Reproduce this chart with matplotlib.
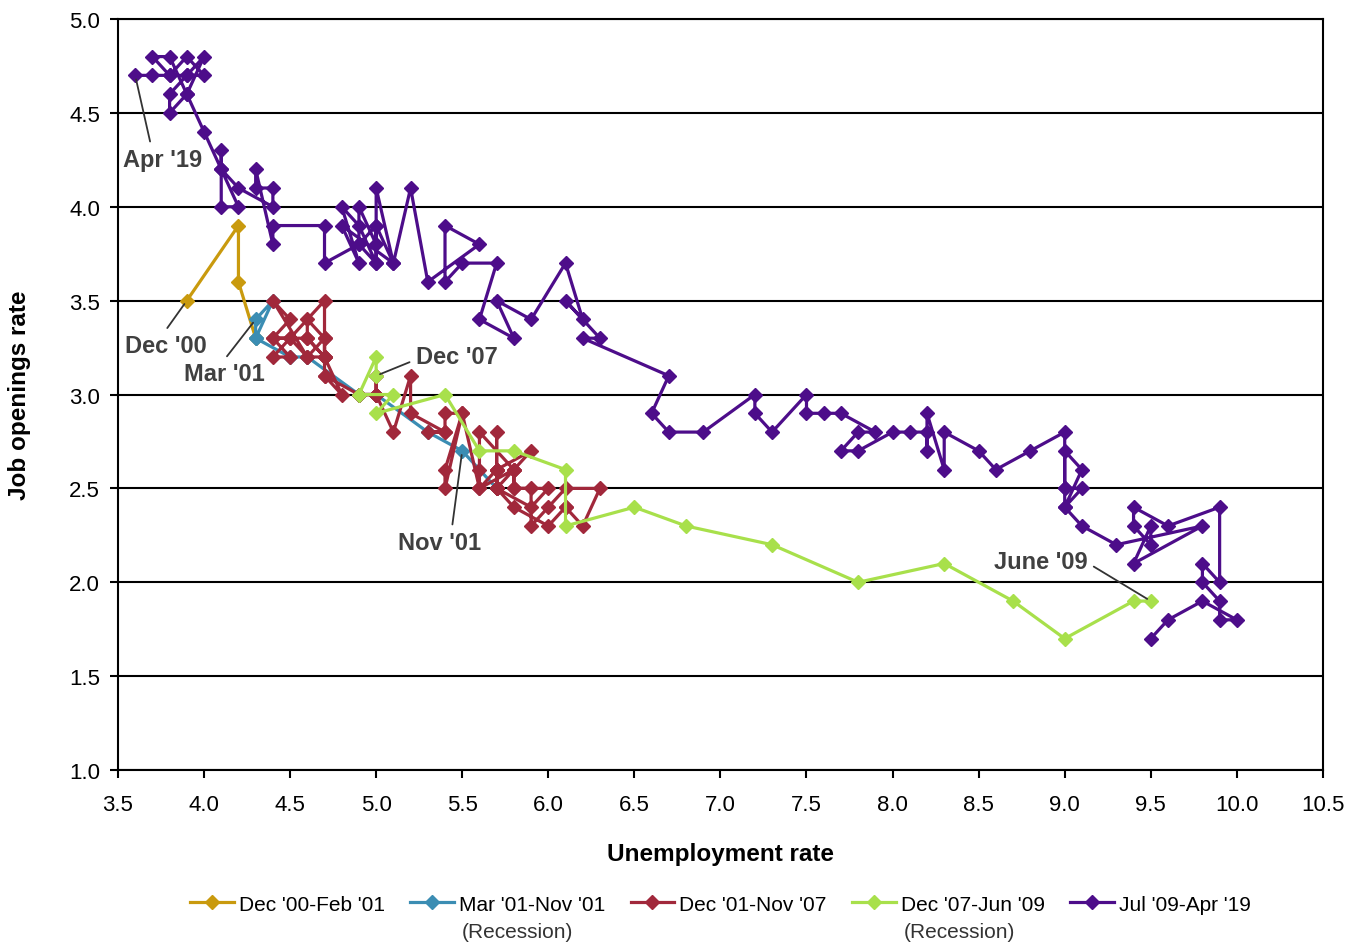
import matplotlib
matplotlib.use("Agg")
import matplotlib.pyplot as plt

plt.rcParams["font.family"] = ["Liberation Sans", "DejaVu Sans"]

# unemployment rate (x) and job openings rate (y), monthly
gold_u = [3.9, 4.2, 4.2, 4.3]
gold_jo = [3.5, 3.9, 3.6, 3.3]

blue_u = [4.3, 4.3, 4.4, 4.3, 4.5, 4.6, 4.9, 5.0, 5.3, 5.5, 5.7]
blue_jo = [3.3, 3.4, 3.5, 3.3, 3.2, 3.2, 3.0, 3.0, 2.8, 2.7, 2.5]

red_u = [5.7,
         5.7, 5.7, 5.7, 5.9, 5.8, 5.8, 5.8, 5.7, 5.7, 5.7, 5.9, 6.0,
         5.8, 5.9, 5.9, 6.0, 6.1, 6.3, 6.2, 6.1, 6.1, 6.0, 5.8, 5.7,
         5.7, 5.6, 5.8, 5.6, 5.6, 5.6, 5.5, 5.4, 5.4, 5.5, 5.4, 5.4,
         5.3, 5.4, 5.2, 5.2, 5.1, 5.0, 5.0, 4.9, 5.0, 5.0, 5.0, 4.9,
         4.7, 4.8, 4.7, 4.7, 4.6, 4.6, 4.7, 4.7, 4.5, 4.4, 4.5, 4.4,
         4.6, 4.5, 4.4, 4.5, 4.4, 4.6, 4.7, 4.6, 4.7, 4.7, 4.7]
red_jo = [2.5,
          2.6, 2.8, 2.6, 2.7, 2.6, 2.5, 2.6, 2.5, 2.6, 2.5, 2.4, 2.5,
          2.5, 2.5, 2.3, 2.4, 2.5, 2.5, 2.3, 2.4, 2.4, 2.3, 2.4, 2.5,
          2.6, 2.5, 2.6, 2.8, 2.6, 2.5, 2.9, 2.5, 2.6, 2.9, 2.9, 2.8,
          2.8, 2.8, 2.9, 3.1, 2.8, 3.0, 3.0, 3.0, 3.0, 3.1, 3.0, 3.0,
          3.1, 3.0, 3.2, 3.3, 3.4, 3.3, 3.2, 3.5, 3.3, 3.3, 3.4, 3.5,
          3.2, 3.3, 3.2, 3.2, 3.3, 3.3, 3.2, 3.2, 3.3, 3.2, 3.1]

green_u = [5.0, 5.0, 4.9, 5.1, 5.0, 5.4, 5.6, 5.8, 6.1, 6.1, 6.5, 6.8, 7.3,
           7.8, 8.3, 8.7, 9.0, 9.4, 9.5]
green_jo = [3.1, 3.2, 3.0, 3.0, 2.9, 3.0, 2.7, 2.7, 2.6, 2.3, 2.4, 2.3, 2.2,
            2.0, 2.1, 1.9, 1.7, 1.9, 1.9]

purple_u = [9.5, 9.6, 9.8, 10.0, 9.9, 9.9,
            9.8, 9.8, 9.9, 9.9, 9.6, 9.4, 9.4, 9.5, 9.5, 9.4, 9.8, 9.3,
            9.1, 9.0, 9.0, 9.1, 9.0, 9.1, 9.0, 9.0, 9.0, 8.8, 8.6, 8.5,
            8.3, 8.3, 8.2, 8.2, 8.2, 8.1, 8.0, 7.8, 7.7, 7.8, 7.9, 7.7,
            7.6, 7.5, 7.5, 7.3, 7.2, 7.2, 6.9, 6.7, 6.6, 6.7,
            6.2, 6.3, 6.1, 6.2, 6.1, 5.9, 5.7, 5.8, 5.6,
            5.7, 5.5, 5.4, 5.4, 5.6, 5.3, 5.2, 5.1, 5.0, 5.0, 5.0, 5.0,
            4.9, 4.9, 5.0, 5.1, 4.8, 4.9, 4.8, 4.9, 5.0, 4.9, 4.7, 4.7,
            4.4, 4.4, 4.3, 4.3, 4.4, 4.4, 4.2, 4.1, 4.2, 4.1, 4.1, 4.1,
            4.0, 3.9, 3.8, 3.8, 3.9, 4.0, 3.9, 3.8, 3.7, 3.8, 3.9, 4.0,
            3.9, 3.8, 3.7, 3.6]
purple_jo = [1.7, 1.8, 1.9, 1.8, 1.8, 1.9,
             2.0, 2.1, 2.0, 2.4, 2.3, 2.4, 2.3, 2.2, 2.3, 2.1, 2.3, 2.2,
             2.3, 2.4, 2.5, 2.5, 2.4, 2.6, 2.7, 2.5, 2.8, 2.7, 2.6, 2.7,
             2.8, 2.6, 2.9, 2.7, 2.8, 2.8, 2.8, 2.7, 2.7, 2.8, 2.8, 2.9,
             2.9, 2.9, 3.0, 2.8, 2.9, 3.0, 2.8, 2.8, 2.9, 3.1,
             3.3, 3.3, 3.5, 3.4, 3.7, 3.4, 3.5, 3.3, 3.4,
             3.7, 3.7, 3.6, 3.9, 3.8, 3.6, 4.1, 3.7, 4.1, 3.7, 3.9, 3.8,
             4.0, 3.8, 3.9, 3.7, 3.9, 3.7, 4.0, 3.9, 3.7, 3.8, 3.7, 3.9,
             3.9, 3.8, 4.2, 4.1, 4.1, 4.0, 4.1, 4.2, 4.0, 4.0, 4.3, 4.2,
             4.4, 4.6, 4.5, 4.6, 4.7, 4.7, 4.8, 4.7, 4.8, 4.8, 4.6, 4.8,
             4.7, 4.7, 4.7, 4.7]

series = [
    ("Dec '00-Feb '01", gold_u, gold_jo, "#C99A0E"),
    ("Mar '01-Nov '01", blue_u, blue_jo, "#3B8DB3"),
    ("Dec '01-Nov '07", red_u, red_jo, "#A1283B"),
    ("Dec '07-Jun '09", green_u, green_jo, "#A8E04B"),
    ("Jul '09-Apr '19", purple_u, purple_jo, "#4D0D8A"),
]

# label, point, text position, anchor on text box for the leader line
notes = [
    ("Apr '19", (3.6, 4.7), (3.76, 4.25), (0.36, 1.0)),
    ("Dec '00", (3.9, 3.5), (3.78, 3.26), (0.46, 1.0)),
    ("Mar '01", (4.3, 3.4), (4.12, 3.11), (0.47, 1.0)),
    ("Dec '07", (5.0, 3.1), (5.47, 3.205), (0.0, 0.35)),
    ("Nov '01", (5.5, 2.7), (5.37, 2.21), (0.64, 1.0)),
    ("June '09", (9.5, 1.9), (8.86, 2.11), (1.0, 0.45)),
]


def main() -> None:
    fig = plt.figure(figsize=(13.62, 9.45), dpi=100)
    ax = fig.add_axes([0.0866, 0.1841, 0.8847, 0.7947])

    for label, u, jo, color in series:
        ax.plot(u, jo, color=color, lw=2.3, marker="D", markersize=6.8,
                label=label, solid_joinstyle="miter")

    for text, xy, xytext, rel in notes:
        ax.annotate(text, xy=xy, xytext=xytext, textcoords="data",
                    ha="center", va="center", fontsize=17, fontweight="bold",
                    color="#404040", zorder=10,
                    arrowprops=dict(arrowstyle="-", color="#333333", lw=1.3,
                                    shrinkA=3, shrinkB=3, relpos=rel))

    ax.set_xlim(3.5, 10.5)
    ax.set_ylim(1.0, 5.0)
    ax.set_xticks([3.5 + 0.5 * i for i in range(15)])
    ax.set_yticks([1.0 + 0.5 * i for i in range(9)])
    ax.xaxis.set_major_formatter(matplotlib.ticker.FormatStrFormatter("%.1f"))
    ax.yaxis.set_major_formatter(matplotlib.ticker.FormatStrFormatter("%.1f"))
    ax.tick_params(axis="both", direction="out", length=6, width=1.5,
                   labelsize=16)
    ax.tick_params(axis="x", pad=11)
    ax.tick_params(axis="y", pad=7)
    ax.grid(axis="y", color="black", lw=1.5)
    ax.set_axisbelow(True)
    for sp in ax.spines.values():
        sp.set_linewidth(1.5)
        sp.set_color("black")

    ax.set_xlabel("Unemployment rate", fontsize=17.5, fontweight="bold", labelpad=20)
    ax.set_ylabel("Job openings rate", fontsize=17.5, fontweight="bold", labelpad=27)

    leg = fig.legend(loc="center", bbox_to_anchor=(0.529, 0.0423), ncol=5,
                     frameon=False, fontsize=15, handlelength=2.1,
                     handletextpad=0.25, columnspacing=1.2)
    for line in leg.get_lines():
        line.set_linewidth(2.3)

    fig.canvas.draw()
    inv = fig.transFigure.inverted()
    for idx in (1, 3):
        bb = leg.get_texts()[idx].get_window_extent()
        x0, y0 = inv.transform((bb.x0, bb.y0))
        fig.text(x0 + 0.002, y0 - 0.009, "(Recession)", ha="left", va="top",
                 fontsize=15, color="#333333")

    fig.savefig("out.png", dpi=100)


if __name__ == "__main__":
    main()
